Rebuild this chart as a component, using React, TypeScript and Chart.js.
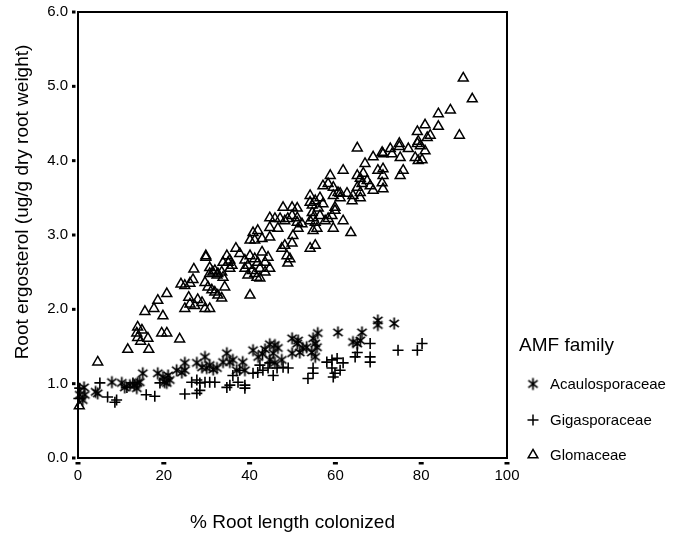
import React, { useEffect, useRef } from 'react';
import { Chart, registerables } from 'chart.js';

Chart.register(...registerables);

const X_TICKS = [0, 20, 40, 60, 80, 100];
const Y_TICKS = [0, 1, 2, 3, 4, 5, 6];
const SERIES_NAMES = ['Acaulosporaceae', 'Gigasporaceae', 'Glomaceae'];
const LEGEND_TITLE = 'AMF family';
const X_TITLE = '% Root length colonized';
const Y_TITLE = 'Root ergosterol (ug/g dry root weight)';

const acaulosporaceae: [number, number][] = [
  [0.4, 0.85], [1.4, 0.95], [1.6, 0.85], [1.1, 0.78], [4.1, 0.89], [4.6, 0.87], [7.9, 1.02], [10.2, 1.01],
  [10.9, 0.95], [12.1, 0.98], [13.2, 0.98], [13.9, 1.01], [14.4, 1.02], [13.7, 0.94], [15.1, 1.14], [18.6, 1.14],
  [19.8, 1.09], [21.0, 1.11], [20.2, 1.02], [21.4, 1.05], [20.7, 1.01], [23.0, 1.18], [24.9, 1.28], [24.2, 1.15],
  [24.9, 1.18], [27.7, 1.28], [29.6, 1.36], [28.9, 1.22], [30.0, 1.21], [30.7, 1.25], [32.4, 1.21], [31.5, 1.19],
  [34.7, 1.41], [33.8, 1.29], [35.4, 1.29], [36.1, 1.32], [38.4, 1.29], [37.0, 1.18], [38.9, 1.18], [40.8, 1.45],
  [43.6, 1.46], [44.7, 1.53], [45.9, 1.52], [46.6, 1.48], [45.5, 1.41], [44.7, 1.32], [45.9, 1.28], [47.5, 1.32],
  [42.0, 1.36], [43.0, 1.40], [49.9, 1.61], [51.3, 1.58], [51.1, 1.54], [49.9, 1.41], [51.7, 1.42], [52.4, 1.48],
  [53.3, 1.49], [54.8, 1.61], [55.9, 1.68], [55.3, 1.54], [55.7, 1.49], [54.5, 1.42], [55.3, 1.36], [60.6, 1.69],
  [64.1, 1.56], [65.1, 1.54], [65.8, 1.58], [66.2, 1.69], [69.9, 1.85], [69.9, 1.79], [73.7, 1.81],
];

const gigasporaceae: [number, number][] = [
  [0.4, 0.94], [0.2, 0.8], [5.1, 1.01], [6.9, 0.82], [9.0, 0.78], [8.6, 0.75], [11.4, 0.95], [12.8, 1.01],
  [15.9, 0.85], [17.9, 0.83], [19.1, 1.01], [24.9, 0.86], [27.7, 0.87], [26.5, 1.02], [27.7, 1.05], [28.4, 1.01],
  [29.6, 1.02], [30.7, 1.02], [31.9, 1.02], [28.4, 0.91], [35.4, 0.98], [34.7, 0.95], [37.3, 1.02], [38.9, 0.98],
  [38.9, 0.94], [36.1, 1.11], [37.7, 1.18], [40.8, 1.14], [41.9, 1.15], [43.1, 1.18], [44.3, 1.21], [45.5, 1.11],
  [46.4, 1.21], [47.8, 1.22], [49.0, 1.21], [42.4, 1.25], [44.7, 1.28], [54.8, 1.21], [54.8, 1.14], [53.6, 1.07],
  [58.0, 1.29], [59.2, 1.32], [60.4, 1.34], [59.2, 1.21], [59.9, 1.14], [61.1, 1.18], [61.8, 1.28], [59.5, 1.09],
  [65.1, 1.42], [64.6, 1.36], [68.1, 1.54], [68.1, 1.36], [68.1, 1.29], [74.6, 1.45], [79.1, 1.45], [80.2, 1.54],
];

const glomaceae: [number, number][] = [
  [0.3, 0.7], [4.6, 1.29], [11.6, 1.46], [16.5, 1.46], [13.9, 1.76], [14.9, 1.72], [13.9, 1.62], [16.3, 1.61],
  [14.6, 1.57], [13.7, 1.68], [19.5, 1.68], [20.7, 1.68], [23.7, 1.6], [15.6, 1.97], [17.7, 2.01], [18.6, 2.12],
  [20.7, 2.21], [19.8, 1.91], [24.0, 2.34], [24.9, 2.32], [26.1, 2.35], [26.8, 2.4], [27.0, 2.54], [25.8, 2.16],
  [24.9, 2.01], [26.1, 2.07], [27.2, 2.05], [27.9, 2.13], [28.9, 2.09], [29.6, 2.01], [30.7, 2.01], [29.6, 2.36],
  [29.8, 2.72], [29.8, 2.7], [30.7, 2.56], [31.4, 2.5], [32.6, 2.48], [33.5, 2.5], [33.8, 2.63], [34.7, 2.72],
  [35.4, 2.66], [35.4, 2.55], [30.3, 2.3], [31.2, 2.26], [31.9, 2.23], [32.6, 2.19], [33.5, 2.15], [34.2, 2.3],
  [30.7, 2.48], [31.9, 2.52], [32.4, 2.46], [33.8, 2.43], [35.0, 2.63], [35.9, 2.59], [36.8, 2.82], [37.7, 2.75],
  [38.9, 2.66], [39.6, 2.59], [40.1, 2.72], [40.6, 2.52], [41.2, 2.68], [41.9, 2.63], [42.4, 2.55], [42.9, 2.77],
  [43.6, 2.63], [44.3, 2.7], [44.7, 2.55], [39.6, 2.46], [41.2, 2.48], [42.4, 2.42], [43.6, 2.5], [38.9, 2.55],
  [40.8, 3.03], [41.9, 3.06], [40.1, 2.93], [41.2, 2.93], [42.9, 2.95], [44.7, 2.97], [44.7, 3.1], [46.6, 3.09],
  [44.7, 3.23], [45.9, 3.22], [47.1, 3.22], [48.2, 3.19], [48.9, 3.22], [49.9, 3.26], [51.1, 3.23], [51.1, 3.17],
  [51.3, 3.09], [52.2, 3.15], [47.8, 3.37], [49.9, 3.37], [51.1, 3.36], [47.5, 2.82], [48.2, 2.86], [48.7, 2.72],
  [49.4, 2.68], [48.9, 2.62], [49.9, 2.89], [50.1, 2.99], [54.1, 3.44], [54.8, 3.23], [55.3, 3.17], [55.7, 3.09],
  [54.8, 3.06], [54.1, 3.19], [56.4, 3.26], [57.6, 3.19], [58.3, 3.22], [59.2, 3.26], [59.9, 3.33], [59.5, 3.09],
  [61.8, 3.19], [54.1, 2.82], [55.3, 2.86], [57.1, 3.66], [58.8, 3.8], [58.3, 3.69], [59.5, 3.64], [60.6, 3.57],
  [61.8, 3.87], [62.7, 3.56], [61.1, 3.5], [59.5, 3.53], [54.1, 3.53], [54.6, 3.4], [55.3, 3.46], [54.6, 3.3],
  [56.0, 3.36], [63.6, 3.03], [40.1, 2.19], [41.7, 2.43], [89.8, 5.11], [91.9, 4.83], [86.8, 4.68], [84.0, 4.63],
  [88.9, 4.34], [84.0, 4.46], [80.9, 4.48], [79.1, 4.39], [82.1, 4.34], [81.4, 4.31], [79.1, 4.23], [79.3, 4.26],
  [79.8, 4.2], [80.9, 4.13], [78.6, 4.04], [79.3, 4.0], [80.2, 4.01], [77.0, 4.16], [74.9, 4.23], [74.9, 4.19],
  [75.1, 4.04], [72.8, 4.16], [73.2, 4.09], [71.1, 4.09], [70.9, 4.11], [68.8, 4.05], [65.1, 4.17], [66.9, 3.96],
  [75.8, 3.87], [75.1, 3.8], [69.9, 3.87], [71.1, 3.89], [71.1, 3.8], [70.9, 3.7], [68.8, 3.6], [71.1, 3.62],
  [65.1, 3.8], [65.8, 3.76], [66.5, 3.83], [67.4, 3.73], [65.1, 3.64], [66.2, 3.69], [68.1, 3.66], [65.8, 3.57],
  [64.1, 3.53], [61.1, 3.56], [65.8, 3.5], [63.9, 3.46], [57.1, 3.42], [56.4, 3.5], [59.9, 3.37],
];

const FONT = '"Liberation Sans", Arial, Helvetica, sans-serif';
const INK = '#000000';

function makeAsterisk(): HTMLCanvasElement {
  const size = 15;
  const c = document.createElement('canvas');
  c.width = size;
  c.height = size;
  const g = c.getContext('2d')!;
  const r = 5.9;
  const cx = size / 2;
  const cy = size / 2;
  g.strokeStyle = INK;
  g.lineWidth = 1.7;
  g.lineCap = 'butt';
  g.beginPath();
  const angles = [90, 38, 142];
  for (const a of angles) {
    const rad = (a * Math.PI) / 180;
    const dx = Math.cos(rad) * r;
    const dy = Math.sin(rad) * r;
    g.moveTo(cx - dx, cy - dy);
    g.lineTo(cx + dx, cy + dy);
  }
  g.stroke();
  return c;
}

function drawLegendMarker(ctx: CanvasRenderingContext2D, kind: number, x: number, y: number, star: HTMLCanvasElement) {
  ctx.save();
  ctx.strokeStyle = INK;
  ctx.lineWidth = 1.5;
  if (kind === 0) {
    ctx.drawImage(star, x - star.width / 2, y - star.height / 2);
  } else if (kind === 1) {
    const r = 5.5;
    ctx.beginPath();
    ctx.moveTo(x - r, y);
    ctx.lineTo(x + r, y);
    ctx.moveTo(x, y - r);
    ctx.lineTo(x, y + r);
    ctx.stroke();
  } else {
    const r = 5.6;
    ctx.beginPath();
    for (let i = 0; i < 3; i++) {
      const a = (i * 2 * Math.PI) / 3;
      const px = x + Math.sin(a) * r;
      const py = y - Math.cos(a) * r;
      if (i === 0) ctx.moveTo(px, py);
      else ctx.lineTo(px, py);
    }
    ctx.closePath();
    ctx.stroke();
  }
  ctx.restore();
}

export default function App() {
  const canvasRef = useRef<HTMLCanvasElement | null>(null);

  useEffect(() => {
    const canvas = canvasRef.current;
    if (!canvas) return;
    const star = makeAsterisk();

    const decor = {
      id: 'decor',
      beforeDatasetsDraw(chart: any) {
        const { ctx, chartArea } = chart;
        const { left, right, top, bottom } = chartArea;
        const xs = chart.scales.x;
        const ys = chart.scales.y;
        ctx.save();
        ctx.strokeStyle = INK;
        ctx.lineWidth = 2;
        ctx.strokeRect(left, top, right - left, bottom - top);
        ctx.fillStyle = INK;
        for (const v of Y_TICKS) {
          const py = ys.getPixelForValue(v);
          ctx.fillRect(left - 6, py - 1.5, 3.5, 3);
        }
        for (const v of X_TICKS) {
          const px = xs.getPixelForValue(v);
          ctx.fillRect(px - 2.5, bottom + 4, 5, 2.5);
        }
        ctx.restore();
      },
      afterDraw(chart: any) {
        const { ctx, chartArea } = chart;
        ctx.save();
        ctx.fillStyle = INK;
        ctx.textBaseline = 'middle';
        ctx.font = `19px ${FONT}`;
        ctx.textAlign = 'center';
        ctx.fillText(X_TITLE, (chartArea.left + chartArea.right) / 2, 523);
        ctx.save();
        ctx.translate(23, 202);
        ctx.rotate(-Math.PI / 2);
        ctx.fillText(Y_TITLE, 0, 0);
        ctx.restore();
        ctx.textAlign = 'left';
        ctx.font = `19px ${FONT}`;
        ctx.fillText(LEGEND_TITLE, 519, 346);
        ctx.font = `15px ${FONT}`;
        const rows = [385, 421, 456];
        SERIES_NAMES.forEach((name, i) => {
          drawLegendMarker(ctx, i, 533, rows[i] - 1, star);
          ctx.fillText(name, 550, rows[i]);
        });
        ctx.restore();
      },
    };

    const toPts = (arr: [number, number][]) => arr.map(([x, y]) => ({ x, y }));

    const chart = new Chart(canvas, {
      type: 'scatter',
      data: {
        datasets: [
          {
            label: SERIES_NAMES[0],
            data: toPts(acaulosporaceae),
            pointStyle: star as any,
            pointRadius: 6,
            borderColor: INK,
            backgroundColor: 'transparent',
            clip: false as any,
          },
          {
            label: SERIES_NAMES[1],
            data: toPts(gigasporaceae),
            pointStyle: 'cross',
            pointRadius: 5.5,
            borderWidth: 1.6,
            borderColor: INK,
            backgroundColor: 'transparent',
            clip: false as any,
          },
          {
            label: SERIES_NAMES[2],
            data: toPts(glomaceae),
            pointStyle: 'triangle',
            pointRadius: 5.7,
            borderWidth: 1.5,
            borderColor: INK,
            backgroundColor: 'transparent',
            clip: false as any,
          },
        ],
      },
      options: {
        responsive: false,
        animation: false,
        devicePixelRatio: 1,
        layout: { padding: { top: 12, right: 173, left: 0, bottom: 0 } },
        plugins: {
          legend: { display: false },
          tooltip: { enabled: false },
          title: { display: false },
        },
        scales: {
          x: {
            type: 'linear',
            min: 0,
            max: 100,
            afterFit: (s: any) => {
              s.height = 79;
              s.paddingLeft = 0;
              s.paddingRight = 0;
            },
            afterBuildTicks: (s: any) => {
              s.ticks = X_TICKS.map((v) => ({ value: v }));
            },
            ticks: {
              padding: 9,
              color: INK,
              font: { family: FONT, size: 15 },
              callback: (v: any) => String(v),
              maxRotation: 0,
            },
            grid: { display: false, drawTicks: false },
            border: { display: false },
          },
          y: {
            type: 'linear',
            min: 0,
            max: 6,
            afterFit: (s: any) => {
              s.width = 78;
              s.paddingTop = 0;
              s.paddingBottom = 0;
            },
            afterBuildTicks: (s: any) => {
              s.ticks = Y_TICKS.map((v) => ({ value: v }));
            },
            ticks: {
              padding: 10,
              color: INK,
              font: { family: FONT, size: 15 },
              callback: (v: any) => Number(v).toFixed(1),
            },
            grid: { display: false, drawTicks: false },
            border: { display: false },
          },
        },
      },
      plugins: [decor],
    });

    return () => {
      chart.destroy();
    };
  }, []);

  return (
    <div style={{ position: 'fixed', left: 0, top: 0, width: 680, height: 537, background: '#ffffff' }}>
      <canvas ref={canvasRef} width={680} height={537} style={{ display: 'block', width: 680, height: 537 }} />
    </div>
  );
}
